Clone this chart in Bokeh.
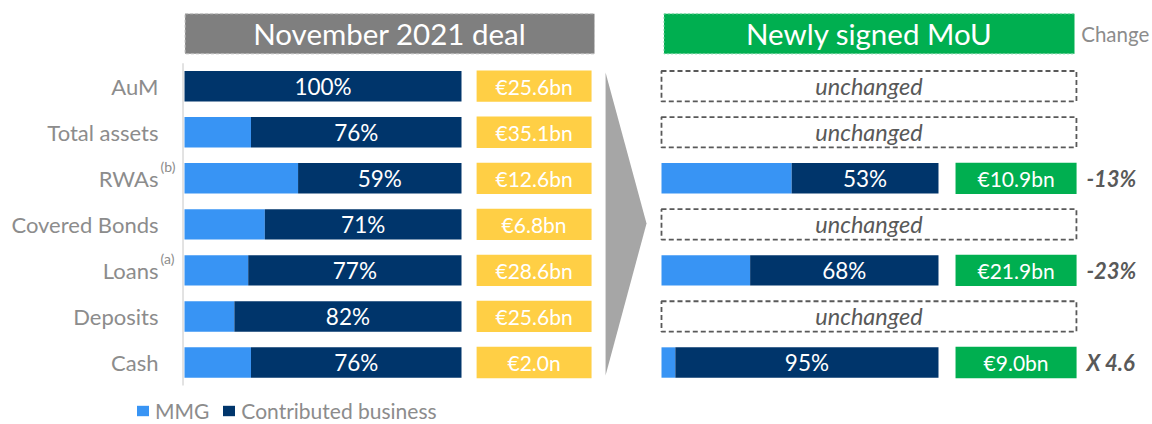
from bokeh.plotting import figure
from bokeh.models import Range1d, ColumnDataSource, Legend, LegendItem
from bokeh.core.properties import value
from bokeh.embed import file_html
from bokeh.resources import INLINE

# ---------------- data ----------------
categories = ["AuM", "Total assets", "RWAs", "Covered Bonds", "Loans", "Deposits", "Cash"]
footnotes = ["", "", "(b)", "", "(a)", "", ""]
contrib_nov = [100, 76, 59, 71, 77, 82, 76]
values_nov = ["€25.6bn", "€35.1bn", "€12.6bn", "€6.8bn", "€28.6bn", "€25.6bn", "€2.0n"]

mou_categories = ["RWAs", "Loans", "Cash"]
contrib_mou = [53, 68, 95]
values_mou = ["€10.9bn", "€21.9bn", "€9.0bn"]
change_mou = ["-13%", "-23%", "X 4.6"]
unchanged_categories = ["AuM", "Total assets", "Covered Bonds", "Deposits"]

header_left = "November 2021 deal"
header_right = "Newly signed MoU"
change_title = "Change"
series_names = ["MMG", "Contributed business"]

# ---------------- style / layout ----------------
FONT = "Lato"
C_MMG = "#3894F4"
C_CON = "#00356B"
C_YEL = "#FFCF45"
C_GRN = "#00AF50"
C_HDR = "#7F7F7F"
C_GRAY_TXT = "#8C8C8C"
C_DARK_TXT = "#595959"

BAR_H = 0.66
BOX_H = 0.68
RIGHT_X0 = 172.2          # start of the right-hand bars (x units)
YEL_X, YEL_W = 126.2, 41.5
GRN_X, GRN_W = 300.2, 43.7
UNCH_X, UNCH_W = 247.1, 149.8
LBL_X = -9.39
CHG_X = 325.6
HDR_Y = -1.1375
HDR_H = 0.87

row = {c: i for i, c in enumerate(categories)}
n = len(categories)

p = figure(width=1152, height=424,
           x_range=Range1d(-66.43, 349.46), y_range=Range1d(7.346, -1.861),
           x_axis_type=None, y_axis_type=None,
           output_backend="svg", toolbar_location=None,
           min_border=0, outline_line_color=None,
           background_fill_color="white", border_fill_color="white")
p.grid.visible = False

# ---------------- left panel ----------------
mmg_nov = [100 - c for c in contrib_nov]
src_nov = ColumnDataSource(dict(
    y=list(range(n)),
    cat=categories,
    note=footnotes,
    mmg=mmg_nov,
    total=[100] * n,
    lab=[f"{c}%" for c in contrib_nov],
    lab_x=[(m + 100) / 2 for m in mmg_nov],
    val=values_nov,
))

# vertical axis line
p.segment(x0=[-0.54], y0=[-0.5], x1=[-0.54], y1=[n - 0.5], line_color="#D9D9D9", line_width=1.5)

r_mmg = p.hbar(y="y", left=0, right="mmg", height=BAR_H, source=src_nov,
               fill_color=C_MMG, line_color=None)
r_con = p.hbar(y="y", left="mmg", right="total", height=BAR_H, source=src_nov,
               fill_color=C_CON, line_color=None)
p.text(x="lab_x", y="y", text="lab", source=src_nov, text_align="center",
       text_baseline="middle", text_color="white", text_font=value(FONT),
       text_font_size="22.5px")

p.text(x=LBL_X, y="y", text="cat", source=src_nov, text_align="right",
       text_baseline="middle", text_color=C_GRAY_TXT, text_font=value(FONT),
       text_font_size="22px")
p.text(x=LBL_X, y="y", text="note", source=src_nov, text_align="left",
       text_baseline="middle", text_color=C_GRAY_TXT, text_font=value(FONT),
       text_font_size="14px", x_offset=2, y_offset=-12)

p.rect(x=YEL_X, y="y", width=YEL_W, height=BOX_H, source=src_nov,
       fill_color=C_YEL, line_color=None)
p.text(x=YEL_X, y="y", text="val", source=src_nov, text_align="center",
       text_baseline="middle", text_color="white", text_font=value(FONT),
       text_font_size="21px")

# header left
p.rect(x=[74.1], y=[HDR_Y], width=[147.8], height=[HDR_H], fill_color=C_HDR,
       line_color="#BFBFBF", line_dash="3 2", line_width=1)
p.text(x=[74.1], y=[HDR_Y], text=[header_left], text_align="center",
       text_baseline="middle", text_color="white", text_font=value(FONT),
       text_font_size="29.5px")

# arrow
p.patch(x=[152.0, 166.8, 152.0], y=[-0.30, 2.98, 6.28], fill_color="#A6A6A6",
        line_color=None)

# ---------------- right panel ----------------
mmg_mou = [100 - c for c in contrib_mou]
src_mou = ColumnDataSource(dict(
    y=[row[c] for c in mou_categories],
    x0=[RIGHT_X0] * len(mou_categories),
    m_end=[RIGHT_X0 + m for m in mmg_mou],
    t_end=[RIGHT_X0 + 100] * len(mou_categories),
    lab=[f"{c}%" for c in contrib_mou],
    lab_x=[RIGHT_X0 + (m + 100) / 2 for m in mmg_mou],
    val=values_mou,
    chg=change_mou,
))
p.hbar(y="y", left="x0", right="m_end", height=BAR_H, source=src_mou,
       fill_color=C_MMG, line_color=None)
p.hbar(y="y", left="m_end", right="t_end", height=BAR_H, source=src_mou,
       fill_color=C_CON, line_color=None)
p.text(x="lab_x", y="y", text="lab", source=src_mou, text_align="center",
       text_baseline="middle", text_color="white", text_font=value(FONT),
       text_font_size="22.5px")
p.rect(x=GRN_X, y="y", width=GRN_W, height=BOX_H, source=src_mou,
       fill_color=C_GRN, line_color=None)
p.text(x=GRN_X, y="y", text="val", source=src_mou, text_align="center",
       text_baseline="middle", text_color="white", text_font=value(FONT),
       text_font_size="21px")
p.text(x=CHG_X, y="y", text="chg", source=src_mou, text_align="left",
       text_baseline="middle", text_color=C_DARK_TXT, text_font=value(FONT),
       text_font_size="22px", text_font_style="bold italic")

src_unch = ColumnDataSource(dict(
    y=[row[c] for c in unchanged_categories],
    t=["unchanged"] * len(unchanged_categories),
))
p.rect(x=UNCH_X, y="y", width=UNCH_W, height=BAR_H, source=src_unch,
       fill_color=None, line_color=C_DARK_TXT, line_dash="5 3", line_width=1.8)
p.text(x=UNCH_X, y="y", text="t", source=src_unch, text_align="center",
       text_baseline="middle", text_color=C_DARK_TXT, text_font=value(FONT),
       text_font_size="23.5px", text_font_style="italic")

# header right
p.rect(x=[247.2], y=[HDR_Y], width=[148.2], height=[HDR_H], fill_color=C_GRN,
       line_color="#7FD7A7", line_dash="2 2", line_width=1)
p.text(x=[247.2], y=[HDR_Y], text=[header_right], text_align="center",
       text_baseline="middle", text_color="white", text_font=value(FONT),
       text_font_size="29.5px")
p.text(x=[348.3], y=[HDR_Y], text=[change_title], text_align="right",
       text_baseline="middle", text_color=C_GRAY_TXT, text_font=value(FONT),
       text_font_size="20.5px")

# ---------------- legend ----------------
legend = Legend(items=[LegendItem(label=series_names[0], renderers=[r_mmg]),
                       LegendItem(label=series_names[1], renderers=[r_con])],
                orientation="horizontal", location=(135, 1),
                glyph_width=15, glyph_height=13, label_height=20,
                label_text_font=FONT, label_text_font_size="21px",
                label_text_color=C_GRAY_TXT, label_standoff=5, spacing=12,
                padding=0, margin=0, background_fill_alpha=0, border_line_alpha=0)
p.add_layout(legend)

open("out.html", "w").write(file_html(p, INLINE))
